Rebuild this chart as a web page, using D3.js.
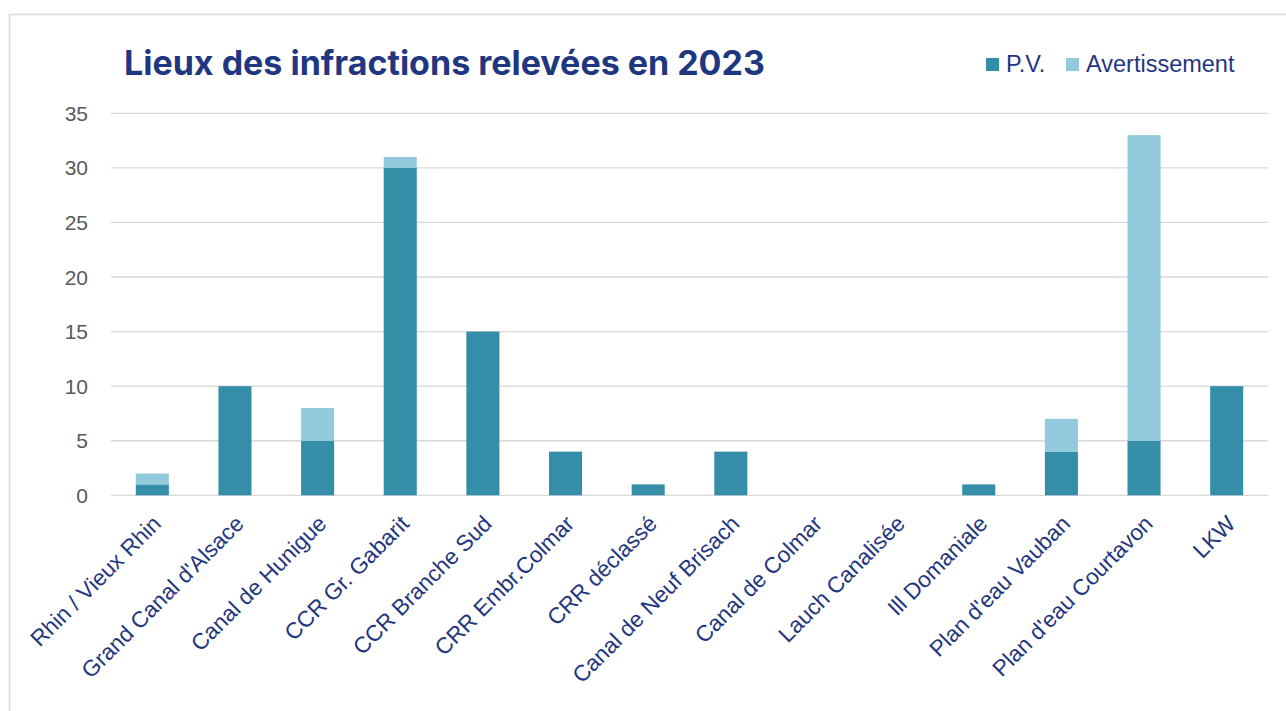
<!DOCTYPE html>
<html>
<head>
<meta charset="utf-8">
<script src="https://cdn.jsdelivr.net/npm/d3@7"></script>
<style>
  body { margin: 0; background: #fff; }
  svg { display: block; }
</style>
</head>
<body>
<div id="chart"></div>
<script>
const lieux = ["Rhin / Vieux Rhin", "Grand Canal d'Alsace", "Canal de Hunigue", "CCR Gr. Gabarit",
  "CCR Branche Sud", "CRR Embr.Colmar", "CRR déclassé", "Canal de Neuf Brisach", "Canal de Colmar",
  "Lauch Canalisée", "Ill Domaniale", "Plan d'eau Vauban", "Plan d'eau Courtavon", "LKW"]
const pv = [1, 10, 5, 30, 15, 4, 1, 4, 0, 0, 1, 4, 5, 10]
const avertissement = [1, 0, 3, 1, 0, 0, 0, 0, 0, 0, 0, 3, 28, 0]
const series = ["P.V.", "Avertissement"]
const yTicks = [0, 5, 10, 15, 20, 25, 30, 35]

const colors = ["#358ea7", "#92cadc"]
const navy = "#1f3681"

function init() {
    const W = 1286, H = 711
    const svg = d3.select("#chart").append("svg")
        .attr("width", W)
        .attr("height", H)

    // frame of the chart (top and left edges visible)
    svg.append("rect")
        .attr("x", 9.5).attr("y", 14.5)
        .attr("width", W + 20).attr("height", H + 20)
        .attr("fill", "none")
        .attr("stroke", "#d9d9d9")
        .attr("stroke-width", 1.5)

    const rows = lieux.map((d, i) => ({ lieu: d, "P.V.": pv[i], "Avertissement": avertissement[i] }))
    const stacked = d3.stack().keys(series)(rows)

    const x = d3.scaleBand().domain(lieux).range([111, 1268]).paddingInner(0.6).paddingOuter(0.3)
    const y = d3.scaleLinear().domain([0, 35]).range([495.3, 113.3])

    // grid
    svg.append("g")
        .selectAll("line")
        .data(yTicks)
        .enter()
        .append("line")
        .attr("x1", 111).attr("x2", 1268)
        .attr("y1", d => y(d)).attr("y2", d => y(d))
        .attr("stroke", "#d9d9d9")
        .attr("stroke-width", 1.3)

    // y labels
    svg.append("g")
        .selectAll("text")
        .data(yTicks)
        .enter()
        .append("text")
        .attr("x", 88)
        .attr("y", d => y(d))
        .attr("dy", "0.36em")
        .attr("text-anchor", "end")
        .attr("font-family", "Liberation Sans, Arial, sans-serif")
        .attr("font-size", 21)
        .attr("fill", "#595959")
        .text(d => d)

    // bars
    svg.append("g")
        .selectAll("g")
        .data(stacked)
        .enter()
        .append("g")
        .attr("fill", (d, i) => colors[i])
        .selectAll("rect")
        .data(d => d)
        .enter()
        .append("rect")
        .attr("x", d => x(d.data.lieu))
        .attr("width", x.bandwidth())
        .attr("y", d => y(d[1]))
        .attr("height", d => y(d[0]) - y(d[1]))

    // category labels
    svg.append("g")
        .selectAll("text")
        .data(lieux)
        .enter()
        .append("text")
        .attr("transform", d => "translate(" + (x(d) + x.bandwidth() / 2 - 1) + ",514) rotate(-45)")
        .attr("text-anchor", "end")
        .attr("dy", "0.7em")
        .attr("font-family", "Liberation Sans, Arial, sans-serif")
        .attr("font-size", 22.5)
        .attr("fill", navy)
        .text(d => d)

    // title
    svg.append("text")
        .attr("x", 124).attr("y", 75)
        .attr("font-family", "Inter, Roboto, sans-serif")
        .attr("font-weight", 700)
        .attr("font-size", 34)
        .attr("fill", navy)
        .text("Lieux des infractions relevées en 2023")

    // legend
    const legendX = [986, 1066]
    const leg = svg.append("g")
        .selectAll("g")
        .data(series)
        .enter()
        .append("g")
        .attr("transform", (d, i) => "translate(" + legendX[i] + ",58)")
    leg.append("rect")
        .attr("width", 13).attr("height", 13)
        .attr("fill", (d, i) => colors[i])
    leg.append("text")
        .attr("x", 20).attr("y", 14)
        .attr("font-family", "Liberation Sans, Arial, sans-serif")
        .attr("font-size", 23.5)
        .attr("fill", navy)
        .text(d => d)
}

window.onload = init
</script>
</body>
</html>
